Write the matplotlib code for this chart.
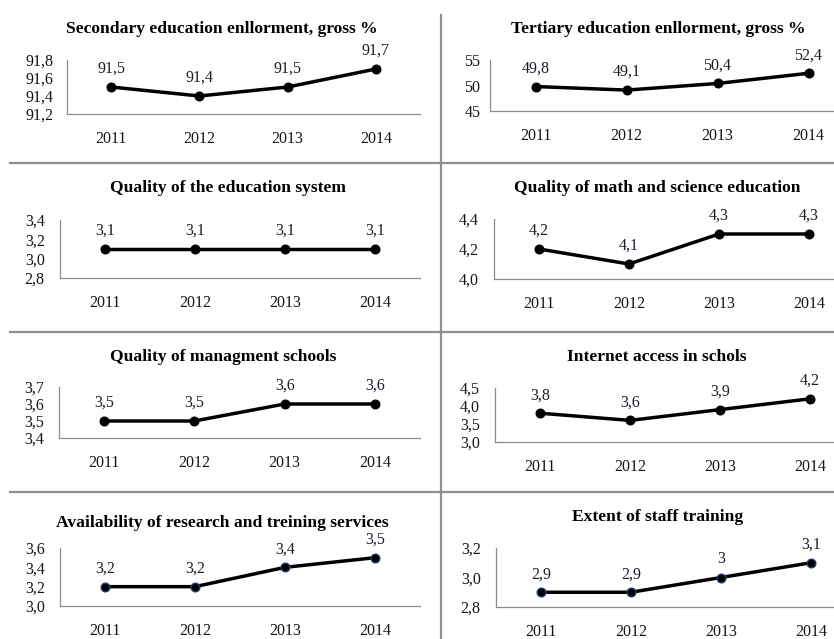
import matplotlib
matplotlib.use("Agg")
import matplotlib.pyplot as plt
from matplotlib.lines import Line2D
from matplotlib.ticker import FixedLocator, FuncFormatter

# ---- data -------------------------------------------------------------
years = ["2011", "2012", "2013", "2014"]

secondary_enrol = [91.5, 91.4, 91.5, 91.7]
tertiary_enrol = [49.8, 49.1, 50.4, 52.4]
edu_system_quality = [3.1, 3.1, 3.1, 3.1]
math_science_quality = [4.2, 4.1, 4.3, 4.3]
management_schools = [3.5, 3.5, 3.6, 3.6]
internet_access = [3.8, 3.6, 3.9, 4.2]
research_training = [3.2, 3.2, 3.4, 3.5]
staff_training = [2.9, 2.9, 3.0, 3.1]

titles = [
    "Secondary education enllorment, gross %",
    "Tertiary education enllorment, gross %",
    "Quality of the education system",
    "Quality of math and science education",
    "Quality of managment schools",
    "Internet access in schols",
    "Availability of research and treining services",
    "Extent of staff training",
]
series = [secondary_enrol, tertiary_enrol, edu_system_quality, math_science_quality,
          management_schools, internet_access, research_training, staff_training]
y_ticks = [
    [91.2, 91.4, 91.6, 91.8],
    [45, 50, 55],
    [2.8, 3.0, 3.2, 3.4],
    [4.0, 4.2, 4.4],
    [3.4, 3.5, 3.6, 3.7],
    [3.0, 3.5, 4.0, 4.5],
    [3.0, 3.2, 3.4, 3.6],
    [2.8, 3.0, 3.2],
]
tick_decimals = [1, 0, 1, 1, 1, 1, 1, 1]

# ---- layout (pixel boxes: left, top, right, bottom) ---------------------
W, H = 834, 639
boxes = [
    (67, 60, 420, 114),
    (490, 60, 854, 111),
    (60, 220, 420, 278),
    (494, 219, 854, 279),
    (59, 387, 420, 438),
    (495, 388, 855, 442),
    (60, 548, 420, 606),
    (496, 548, 856, 607),
]
title_pos = [(222, 29), (658, 29), (228, 188), (657, 188),
             (223, 357), (657, 357), (222, 523), (658, 517)]
ytick_pad = [10, 7, 11, 11, 11, 11, 11, 11]
marker_edges = ["#000000"] * 6 + ["#1f3a6e", "#1f3a6e"]

SERIF = ["Liberation Serif", "DejaVu Serif"]
plt.rcParams["font.family"] = SERIF
AXIS_GREY = "#8c8c8c"
SEP_GREY = "#8f8f8f"

fig = plt.figure(figsize=(W / 100, H / 100), dpi=100)
fig.patch.set_facecolor("white")


def comma_fmt(decimals):
    return FuncFormatter(lambda v, _: f"{v:.{decimals}f}".replace(".", ","))


def value_label(v):
    s = f"{v:.1f}"
    if s.endswith(".0"):
        s = s[:-2]
    return s.replace(".", ",")


x = list(range(len(years)))
for i, (vals, box) in enumerate(zip(series, boxes)):
    l, t, r, b = box
    ax = fig.add_axes([l / W, 1 - b / H, (r - l) / W, (b - t) / H])
    ax.patch.set_alpha(0)
    ax.plot(x, vals, color="black", lw=2.5, marker="o", ms=6.2,
            mfc="black", mec=marker_edges[i], mew=1.0, zorder=3, clip_on=False)
    for xi, v in zip(x, vals):
        ax.annotate(value_label(v), (xi, v), xytext=(0, 13), textcoords="offset points",
                    ha="center", va="center", fontsize=11.5, color="#1c1c28")
    ax.set_xlim(-0.5, len(years) - 0.5)
    ticks = y_ticks[i]
    ax.set_ylim(ticks[0], ticks[-1])
    ax.yaxis.set_major_locator(FixedLocator(ticks))
    ax.yaxis.set_major_formatter(comma_fmt(tick_decimals[i]))
    ax.set_xticks(x)
    ax.set_xticklabels(years)
    ax.tick_params(axis="both", length=0, labelsize=11.5, colors="#141414")
    ax.tick_params(axis="y", pad=ytick_pad[i])
    ax.tick_params(axis="x", pad=12)
    for side in ("top", "right"):
        ax.spines[side].set_visible(False)
    for side in ("left", "bottom"):
        ax.spines[side].set_color(AXIS_GREY)
        ax.spines[side].set_linewidth(0.9)
    tx, ty = title_pos[i]
    fig.text(tx / W, 1 - ty / H, titles[i], ha="center", va="center",
             fontsize=12.6, fontweight="bold", color="black")

# ---- grid separators -------------------------------------------------
def sep(x0, y0, x1, y1):
    fig.add_artist(Line2D([x0 / W, x1 / W], [1 - y0 / H, 1 - y1 / H],
                          color=SEP_GREY, lw=1.6, transform=fig.transFigure))

sep(441, 15, 441, H)
for yy in (163, 332, 492):
    sep(10, yy, W, yy)

fig.savefig("out.png", dpi=100, facecolor="white")
